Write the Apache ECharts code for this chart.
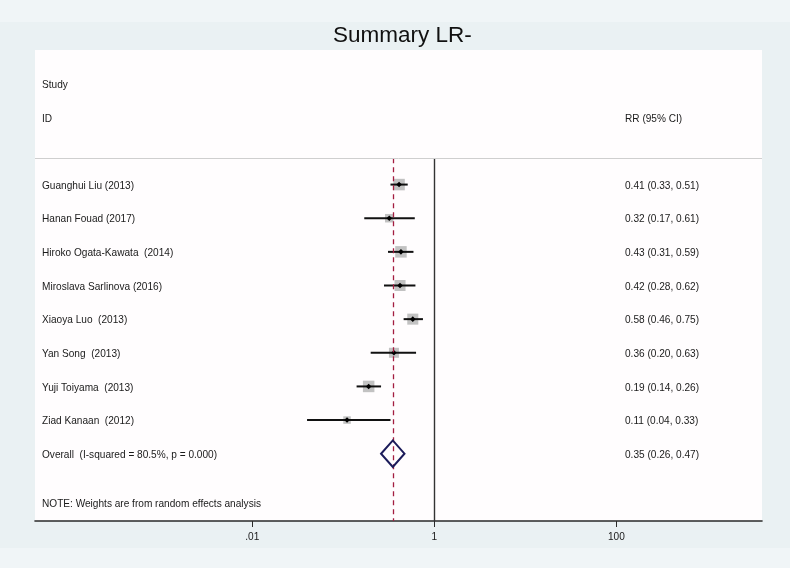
<!DOCTYPE html>
<html><head><meta charset="utf-8">
<script src="https://cdn.jsdelivr.net/npm/echarts@6/dist/echarts.min.js"></script>
<style>html,body{margin:0;padding:0;background:#eaf1f3}#c{width:790px;height:568px}</style>
</head><body><div id="c"></div>
<script>
const studies = ['Guanghui Liu (2013)', 'Hanan Fouad (2017)', 'Hiroko Ogata-Kawata  (2014)', 'Miroslava Sarlinova (2016)', 'Xiaoya Luo  (2013)', 'Yan Song  (2013)', 'Yuji Toiyama  (2013)', 'Ziad Kanaan  (2012)'];
const rr = [0.41, 0.32, 0.43, 0.42, 0.58, 0.36, 0.19, 0.11];
const lower = [0.33, 0.17, 0.31, 0.28, 0.46, 0.20, 0.14, 0.04];
const upper = [0.51, 0.61, 0.59, 0.62, 0.75, 0.63, 0.26, 0.33];
const weights = [15.2, 8.3, 15.2, 14.0, 14.0, 11.5, 15.2, 6.5];
const overallLabel = 'Overall  (I-squared = 80.5%, p = 0.000)';
const overallRR = 0.35, overallLower = 0.26, overallUpper = 0.47;
const tickValues = [0.01, 1, 100];
const tickLabels = ['.01', '1', '100'];
const headerLeft = ['Study', 'ID'];
const headerRight = 'RR (95% CI)';
const note = 'NOTE: Weights are from random effects analysis';

const FONT = '"Liberation Sans", Arial, Helvetica, sans-serif';
const FS = 10.1;
const fmt = v => v.toFixed(2);
const ciText = (e, l, u) => fmt(e) + ' (' + fmt(l) + ', ' + fmt(u) + ')';

const firstRow = 4;
const studyData = studies.map((s, i) => [rr[i], lower[i], upper[i], firstRow + i, weights[i], s, ciText(rr[i], lower[i], upper[i])]);
const overallRow = firstRow + studies.length;
const sepRow = 3.22;
const yMax = 14;
const xMin = Math.pow(10, -4.386), xMax = Math.pow(10, 3.599);

const LEFT_PAD = 7, RIGHT_COL = 590, TEXT_DY = 1.5;

function textEl(x, y, t) {
  return {type: 'text', x: x, y: y + TEXT_DY, style: {text: t, fill: '#1a1a1a', fontSize: FS, fontFamily: FONT, verticalAlign: 'middle', align: 'left'}};
}

const chart = echarts.init(document.getElementById('c'), null, {renderer: 'canvas'});
chart.setOption({
  backgroundColor: '#eaf1f3',
  animation: false,
  title: {text: 'Summary LR-', left: 328, top: 19, textStyle: {fontFamily: FONT, fontSize: 22.5, fontWeight: 'normal', color: '#111'}},
  graphic: [
    {type: 'rect', z: -10, shape: {x: 0, y: 0, width: 790, height: 22}, style: {fill: '#f0f5f7'}},
    {type: 'rect', z: -10, shape: {x: 0, y: 548, width: 790, height: 20}, style: {fill: '#f0f5f7'}}
  ],
  grid: {left: 35, right: 28, top: 50, bottom: 47, show: true, backgroundColor: '#fffdfe', borderWidth: 0},
  xAxis: {
    type: 'log', logBase: 10,
    min: xMin, max: xMax,
    axisLine: {onZero: false, lineStyle: {color: '#2a2a2a', width: 1.6}},
    axisTick: {show: true, length: 6, customValues: tickValues, lineStyle: {color: '#2a2a2a', width: 1}},
    axisLabel: {customValues: tickValues, formatter: v => { const i = tickValues.findIndex(t => Math.abs(Math.log10(t) - Math.log10(v)) < 1e-6); return i >= 0 ? tickLabels[i] : ''; }, color: '#1a1a1a', fontSize: FS, fontFamily: FONT, margin: 11},
    splitLine: {show: false}
  },
  yAxis: {type: 'value', inverse: true, min: 0, max: yMax, show: false},
  series: [
    {
      type: 'custom', name: 'headers', silent: true,
      data: [[1, 0], [2, 1]],
      renderItem: (params, api) => {
        const cs = params.coordSys;
        const row = api.value(0);
        const idx = params.dataIndex;
        const y = api.coord([1, row])[1];
        const ch = [textEl(cs.x + LEFT_PAD, y, headerLeft[idx])];
        if (idx === 1) ch.push(textEl(cs.x + RIGHT_COL, y, headerRight));
        return {type: 'group', children: ch};
      }
    },
    {
      type: 'custom', name: 'studies', silent: true,
      data: studyData,
      markLine: {
        silent: true, symbol: ['none', 'none'], label: {show: false},
        data: [
          [{coord: [1, sepRow], lineStyle: {color: '#333', width: 1.4, type: 'solid'}}, {coord: [1, yMax]}],
          [{coord: [overallRR, sepRow], lineStyle: {color: '#a31d40', width: 1.3, type: [5, 4]}}, {coord: [overallRR, yMax]}],
          [{coord: [xMin, sepRow], lineStyle: {color: '#cfcfcf', width: 1, type: 'solid'}}, {coord: [xMax, sepRow]}]
        ]
      },
      renderItem: (params, api) => {
        const cs = params.coordSys;
        const e = api.value(0), l = api.value(1), u = api.value(2), row = api.value(3), w = api.value(4);
        const pe = api.coord([e, row]);
        const pl = api.coord([l, row]);
        const pu = api.coord([u, row]);
        const s = 2.95 * Math.sqrt(w);
        const d = studyData[params.dataIndex];
        return {type: 'group', children: [
          {type: 'rect', shape: {x: pe[0] - s / 2, y: pe[1] - s / 2, width: s, height: s}, style: {fill: '#c2c2c2'}},
          {type: 'line', shape: {x1: pl[0], y1: pl[1], x2: pu[0], y2: pu[1]}, style: {stroke: '#111', lineWidth: 2}},
          {type: 'polygon', shape: {points: [[pe[0] - 2.8, pe[1]], [pe[0], pe[1] - 2.8], [pe[0] + 2.8, pe[1]], [pe[0], pe[1] + 2.8]]}, style: {fill: '#000'}},
          textEl(cs.x + LEFT_PAD, pe[1], d[5]),
          textEl(cs.x + RIGHT_COL, pe[1], d[6])
        ]};
      }
    },
    {
      type: 'custom', name: 'overall', silent: true, z: 5,
      data: [[overallRR, overallLower, overallUpper, overallRow]],
      renderItem: (params, api) => {
        const cs = params.coordSys;
        const row = api.value(3);
        const pe = api.coord([api.value(0), row]);
        const pl = api.coord([api.value(1), row]);
        const pu = api.coord([api.value(2), row]);
        const h = 13.3;
        return {type: 'group', children: [
          {type: 'polygon', shape: {points: [[pl[0], pe[1]], [pe[0], pe[1] - h], [pu[0], pe[1]], [pe[0], pe[1] + h]]}, style: {fill: 'none', stroke: '#1b1b5a', lineWidth: 2}},
          textEl(cs.x + LEFT_PAD, pe[1], overallLabel),
          textEl(cs.x + RIGHT_COL, pe[1], ciText(api.value(0), api.value(1), api.value(2)))
        ]};
      }
    },
    {
      type: 'custom', name: 'note', silent: true,
      data: [[13.45]],
      renderItem: (params, api) => {
        const cs = params.coordSys;
        const y = api.coord([1, api.value(0)])[1];
        return textEl(cs.x + LEFT_PAD, y, note);
      }
    }
  ]
});
</script></body></html>
